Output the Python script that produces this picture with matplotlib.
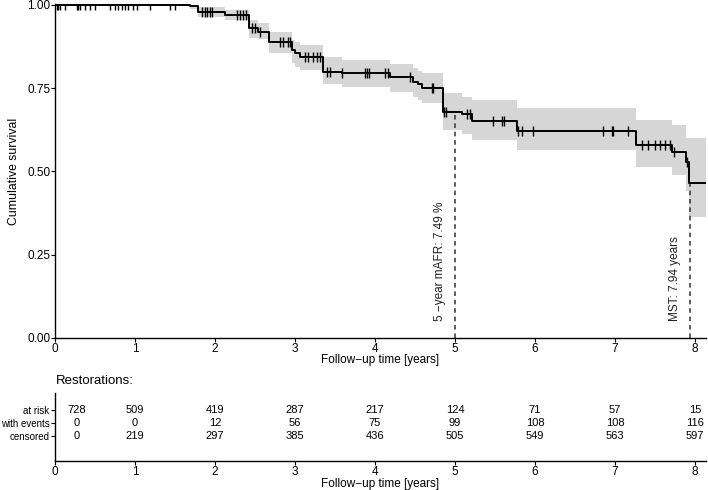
import numpy as np
import matplotlib
matplotlib.use("Agg")
import matplotlib.pyplot as plt

plt.rcParams['font.family'] = ['Liberation Sans', 'DejaVu Sans']

# Kaplan-Meier step data
step_times = [0.0, 1.69, 1.79, 2.12, 2.43, 2.54, 2.68, 2.96, 3.00, 3.06, 3.35, 3.59,
              4.19, 4.475, 4.54, 4.59, 4.85, 5.09, 5.21, 5.77, 7.26, 7.71, 7.89, 7.93]
surv = [1.0, 0.996, 0.980, 0.970, 0.930, 0.920, 0.890, 0.866, 0.855, 0.844, 0.800, 0.796,
        0.784, 0.770, 0.762, 0.752, 0.680, 0.673, 0.652, 0.623, 0.580, 0.560, 0.530, 0.465]
lower = [1.0, 0.988, 0.964, 0.955, 0.900, 0.898, 0.856, 0.826, 0.815, 0.805, 0.763, 0.754,
         0.738, 0.725, 0.716, 0.706, 0.625, 0.612, 0.595, 0.565, 0.514, 0.490, 0.440, 0.364]
upper = [1.0, 1.0, 0.995, 0.985, 0.955, 0.946, 0.920, 0.895, 0.888, 0.880, 0.844, 0.835,
         0.822, 0.810, 0.803, 0.796, 0.736, 0.725, 0.715, 0.690, 0.655, 0.640, 0.600, 0.600]
end_time = 8.14

censor_times = [0.02, 0.04, 0.06, 0.125, 0.27, 0.29, 0.31, 0.375, 0.44, 0.5, 0.69, 0.75,
                0.79, 0.84, 0.875, 0.91, 0.975, 1.025, 1.19, 1.44, 1.5, 1.84, 1.87, 1.9,
                1.94, 1.96, 2.27, 2.31, 2.35, 2.39, 2.46, 2.5, 2.56, 2.81, 2.85, 2.91, 2.94,
                3.125, 3.16, 3.23, 3.275, 3.31, 3.4, 3.44, 3.59, 3.875, 3.9, 3.92, 4.125,
                4.16, 4.44, 4.71, 4.73, 4.86, 4.89, 5.15, 5.19, 5.48, 5.59, 5.61, 5.79,
                5.84, 5.975, 6.85, 6.96, 6.98, 7.16, 7.34, 7.41, 7.5, 7.56, 7.63, 7.69,
                7.74, 7.9]

# risk table
table_times = [0, 1, 2, 3, 4, 5, 6, 7, 8]
at_risk = [728, 509, 419, 287, 217, 124, 71, 57, 15]
with_events = [0, 0, 12, 56, 75, 99, 108, 108, 116]
censored = [0, 219, 297, 385, 436, 505, 549, 563, 597]
row_labels = ["at risk", "with events", "censored"]

five_year = 5.0
five_year_label = "5 \u2212year mAFR: 7.49 %"
mst = 7.94
mst_label = "MST: 7.94 years"

W, H = 708, 490
fig = plt.figure(figsize=(W / 100, H / 100), dpi=100)
ax = fig.add_axes([55 / W, 152 / H, 651 / W, 334 / H])

t_arr = np.array(step_times + [end_time])
s_arr = np.array(surv + [surv[-1]])
lo_arr = np.array(lower + [lower[-1]])
hi_arr = np.array(upper + [upper[-1]])

ax.fill_between(t_arr, lo_arr, hi_arr, step='post', color='#d6d6d6', linewidth=0, zorder=1)
ax.step(t_arr, s_arr, where='post', color='black', lw=1.4, zorder=3)

ct = np.array(censor_times)
idx = np.searchsorted(np.array(step_times), ct, side='right') - 1
cs = np.array(surv)[idx]
ax.plot(ct, cs, linestyle='none', marker='|', markersize=6.5, markeredgewidth=1.0,
        color='black', zorder=4)

# reference lines
s5 = surv[np.searchsorted(np.array(step_times), five_year, side='right') - 1]
smst = surv[np.searchsorted(np.array(step_times), mst, side='right') - 1]
ax.plot([five_year, five_year], [0, s5], ls=(0, (3, 2.5)), color='#333333', lw=1.1, zorder=2)
ax.plot([mst, mst], [0, smst], ls=(0, (3, 2.5)), color='#333333', lw=1.1, zorder=2)
ax.text(five_year - 0.19, 0.05, five_year_label, rotation=90, ha='center', va='bottom',
        fontsize=8.5, color='#222222')
ax.text(mst - 0.19, 0.05, mst_label, rotation=90, ha='center', va='bottom',
        fontsize=8.5, color='#222222')

ax.set_xlim(0, 651 / 80)
ax.set_ylim(0, 1.003)
ax.set_xticks(table_times)
ax.set_yticks([0, 0.25, 0.5, 0.75, 1.0])
ax.set_yticklabels(["0.00", "0.25", "0.50", "0.75", "1.00"])
for sp in ['top', 'right']:
    ax.spines[sp].set_visible(False)
for sp in ['left', 'bottom']:
    ax.spines[sp].set_linewidth(1.0)
ax.tick_params(axis='both', direction='out', length=3, width=0.8, labelsize=8.5, pad=0.5)
ax.set_xlabel("Follow\u2212up time [years]", fontsize=8.5)
ax.xaxis.set_label_coords(0.5, -16.5 / 334, transform=ax.transAxes)
ax.set_ylabel("Cumulative survival", fontsize=8.8)
ax.yaxis.set_label_coords(-35 / 651, 0.5, transform=ax.transAxes)

# risk table
ax2 = fig.add_axes([55 / W, 29 / H, 651 / W, 68 / H])
ax2.set_xlim(0, 651 / 80)
ax2.set_ylim(0, 1)
row_y = [0.75, 0.555, 0.37]
for vals, yy in zip([at_risk, with_events, censored], row_y):
    for t, v in zip(table_times, vals):
        ax2.text(max(t, 0.27), yy, str(v), ha='center', va='center', fontsize=8)
ax2.set_yticks(row_y)
ax2.set_yticklabels(row_labels, fontsize=7)
ax2.set_xticks(table_times)
for sp in ['top', 'right']:
    ax2.spines[sp].set_visible(False)
for sp in ['left', 'bottom']:
    ax2.spines[sp].set_linewidth(1.0)
ax2.tick_params(axis='x', direction='out', length=3, width=0.8, labelsize=8.5, pad=0.5)
ax2.tick_params(axis='y', direction='out', length=3, width=0.8, labelsize=7, pad=1.0)
ax2.set_xlabel("Follow\u2212up time [years]", fontsize=8.5)
ax2.xaxis.set_label_coords(0.5, -16.5 / 68, transform=ax2.transAxes)
fig.text(56 / W, 1 - 381 / H, "Restorations:", fontsize=9.5, va='center', ha='left')

fig.savefig("out.png", dpi=100)
